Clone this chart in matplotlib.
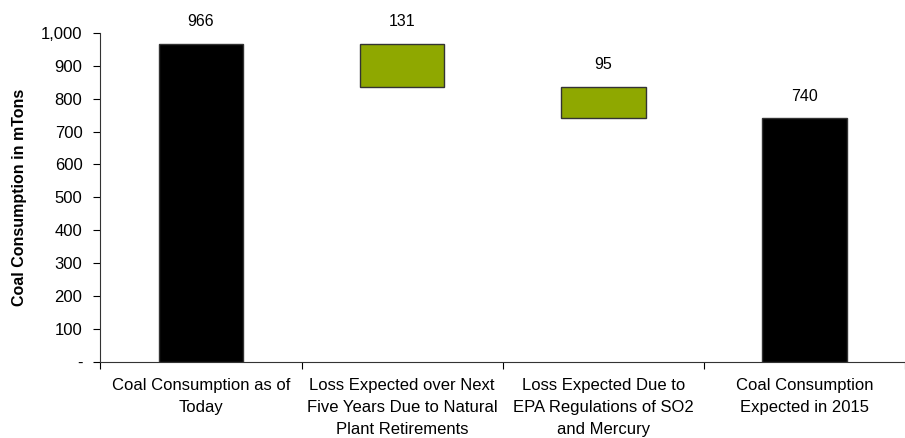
import numpy as np
import matplotlib.pyplot as plt
from matplotlib.ticker import FuncFormatter

categories = ["Coal Consumption as of\nToday",
              "Loss Expected over Next\nFive Years Due to Natural\nPlant Retirements",
              "Loss Expected Due to\nEPA Regulations of SO2\nand Mercury",
              "Coal Consumption\nExpected in 2015"]
start_value = 966
losses = [131, 95]
end_value = 740

plt.rcParams['font.family'] = ['Liberation Sans', 'DejaVu Sans']

heights = [start_value] + losses + [end_value]
bottoms = [0]
level = start_value
for loss in losses:
    level -= loss
    bottoms.append(level)
bottoms.append(0)
colors = ['black', '#8FA800', '#8FA800', 'black']

fig = plt.figure(figsize=(9.05, 4.38), dpi=100)
ax = fig.add_axes([0.111, 0.174, 0.889, 0.751])

x = np.arange(len(categories))
ax.bar(x, heights, bottom=bottoms, width=0.42, color=colors,
       edgecolor='#333333', linewidth=1.0)

for xi, h, b in zip(x, heights, bottoms):
    ax.text(xi, b + h + 45, f"{h:,}", ha='center', va='bottom', fontsize=11.5)

ax.set_xlim(-0.5, len(categories) - 0.5)
ax.set_ylim(0, 1000)
ax.set_yticks(np.arange(0, 1001, 100))
ax.yaxis.set_major_formatter(FuncFormatter(lambda v, p: '-' if v == 0 else f"{int(v):,}"))
ax.set_xticks(np.arange(-0.5, len(categories), 1.0))
ax.set_xticklabels([])
ax.set_xticks(x, minor=True)
ax.set_xticklabels(categories, minor=True, fontsize=12, linespacing=1.55)
ax.tick_params(axis='x', which='minor', length=0, pad=12)
ax.tick_params(axis='x', which='major', length=5, direction='out')
ax.tick_params(axis='y', length=5, labelsize=12, pad=8)

for s in ['top', 'right']:
    ax.spines[s].set_visible(False)
ax.spines['left'].set_color('#333333')
ax.spines['bottom'].set_color('#333333')

ax.set_ylabel("Coal Consumption in mTons", fontsize=11.5, fontweight='bold', labelpad=10)

fig.savefig("out.png", dpi=100)
